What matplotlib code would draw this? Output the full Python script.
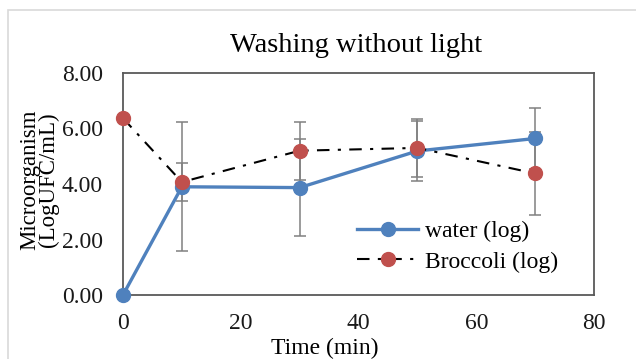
import matplotlib.pyplot as plt
from matplotlib.patches import Rectangle

# Data
time_min = [0, 10, 30, 50, 70]
water_log = [0.0, 3.90, 3.87, 5.19, 5.64]
water_err = [0.0, 2.33, 1.74, 1.08, 1.11]
broccoli_log = [6.37, 4.07, 5.20, 5.30, 4.38]
broccoli_err = [0.0, 0.70, 1.05, 1.05, 1.50]

x_ticks = [0, 20, 40, 60, 80]
y_ticks = [0, 2, 4, 6, 8]

plt.rcParams['font.family'] = ['Liberation Serif', 'DejaVu Serif']

fig = plt.figure(figsize=(6.36, 3.59), dpi=100)
ax = fig.add_axes([123 / 636, 1 - 295 / 359, 471 / 636, 222 / 359])

# light border of the chart area
fig.patches.append(Rectangle((8 / 636, -0.1), 1.1, 1 - 10 / 359 + 0.1,
                             transform=fig.transFigure, fill=False,
                             edgecolor='#d9d9d9', linewidth=1.2))

err_style = dict(fmt='none', ecolor='#808080', elinewidth=1.1, capsize=4.5, capthick=1.1)
ax.errorbar(time_min, water_log, yerr=water_err, zorder=2, **err_style)
ax.errorbar(time_min, broccoli_log, yerr=broccoli_err, zorder=2, **err_style)

ax.plot(time_min, water_log, color='#4f81bd', linewidth=2.4, marker='o',
        markersize=10, label='water (log)', zorder=3, clip_on=False)
ax.plot(time_min, broccoli_log, color='black', linewidth=1.5,
        linestyle=(0, (6, 4, 1.5, 4)), marker='o', markersize=10,
        markerfacecolor='#c0504d', markeredgecolor='#c0504d',
        label='Broccoli (log)', zorder=4, clip_on=False)

ax.set_xlim(0, 80)
ax.set_ylim(0, 8)
ax.set_xticks(x_ticks)
ax.set_yticks(y_ticks)
ax.set_yticklabels([f'{v:.2f}' for v in y_ticks])
ax.tick_params(length=0, labelsize=17, colors='#1a1a1a', pad=13)
ax.tick_params(axis='y', pad=14.5)
for sp in ax.spines.values():
    sp.set_color('#595959')
    sp.set_linewidth(1.3)

fig.text(356 / 636, 1 - 46 / 359, 'Washing without light', ha='center', va='center',
         fontsize=20.5)
fig.text(39 / 636, 1 - 180 / 359, 'Microorganism\n(LogUFC/mL)', rotation=90,
         ha='center', va='center', fontsize=16.5, linespacing=0.87)
fig.text(325 / 636, 1 - 348 / 359, 'Time (min)', ha='center', va='center', fontsize=17)

ax.legend(loc='center left', bbox_to_anchor=(357 / 636, 1 - 246.5 / 359),
          bbox_transform=fig.transFigure, frameon=False, fontsize=17,
          borderpad=0, borderaxespad=0, handlelength=2.6, handletextpad=0.3,
          labelspacing=0.4)

fig.savefig('out.png', dpi=100)
